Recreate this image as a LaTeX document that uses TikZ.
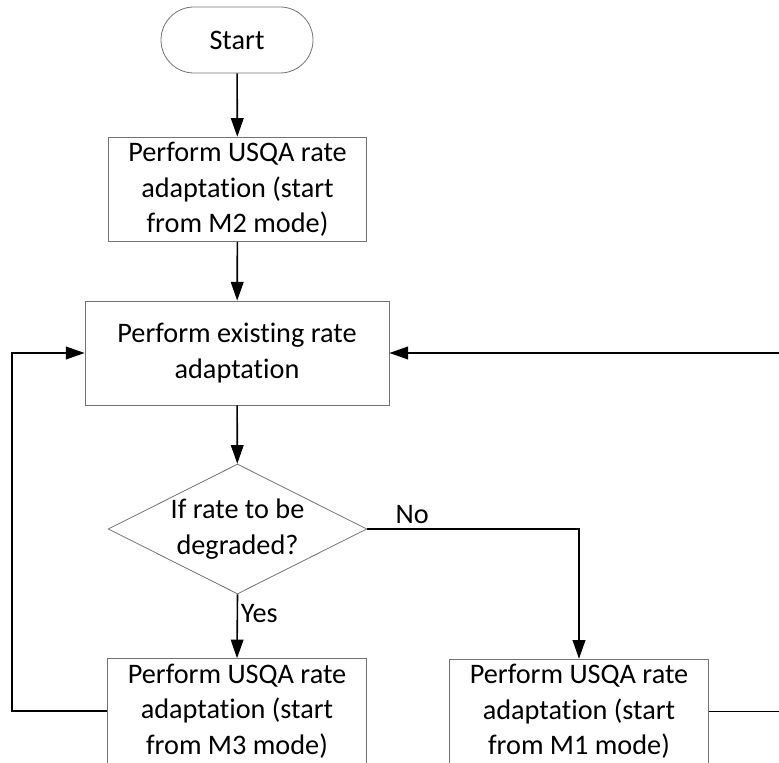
\documentclass[tikz,border=0pt]{standalone}
\usepackage{fontspec}
\setmainfont[RawFeature={-liga;-clig;-calt;-dlig}]{Carlito}
\usetikzlibrary{arrows.meta,positioning,calc,shapes.geometric}

\begin{document}
\begin{tikzpicture}[x=0.75pt,y=-0.75pt,font=\fontsize{21.2}{26.6}\selectfont,
  term/.style={rectangle,rounded corners=24.75pt,draw=black!55,line width=0.6pt,
               minimum width=114pt,minimum height=49.5pt,inner sep=0},
  proc/.style={rectangle,draw=black!55,line width=0.6pt,align=center,
               minimum width=194pt,minimum height=78.5pt,inner sep=0},
  dec/.style={diamond,draw=black!55,line width=0.6pt,align=center,aspect=2,
              minimum width=194pt,minimum height=97.5pt,inner sep=0},
  flow/.style={line width=1.2pt,-{Triangle[length=14pt,width=9.5pt]}},
  plain/.style={line width=1.2pt}]

\useasboundingbox (0,0) rectangle (779,763);
\clip (0,0) rectangle (779,763);

%% main column
\node[term] (start) at (237,40) {Start};
\node[proc] (usqatwo) at (237.5,189.5) {Perform USQA rate\\adaptation (start\\from M2 mode)};
\node[proc,minimum width=228pt,minimum height=78pt] (exist) at (237,353) {Perform existing rate\\adaptation};
\node[dec] (degr) at (237.5,529) {If rate to be\\degraded?};

%% bottom row (cut by the frame)
\node[proc] (usqathree) at (237,711) {Perform USQA rate\\adaptation (start\\from M3 mode)};
\node[proc] (usqaone) at (579,711.5) {Perform USQA rate\\adaptation (start\\from M1 mode)};

%% loop-back rails
\coordinate (lrail) at (12,0);
\coordinate (rrail) at (800,0);

%% connectors
\draw[flow] (start) -- (usqatwo);
\draw[flow] (usqatwo) -- (exist);
\draw[flow] (exist) -- (degr);
\draw[flow] (degr.south) -- (usqathree.north)
  node[pos=0.3,anchor=west,inner sep=2pt] (yes) {Yes};
\draw[flow] (degr.east) -| (usqaone.north);
\node[anchor=south west,inner sep=0] (no) at ($(degr.east)+(28,-5)$) {No};
\draw[flow] (usqathree.west) -- (usqathree.west -| lrail) |- (exist.west);
\draw[flow] (usqaone.east) -- (usqaone.east -| rrail) |- (exist.east);
\end{tikzpicture}
\end{document}
